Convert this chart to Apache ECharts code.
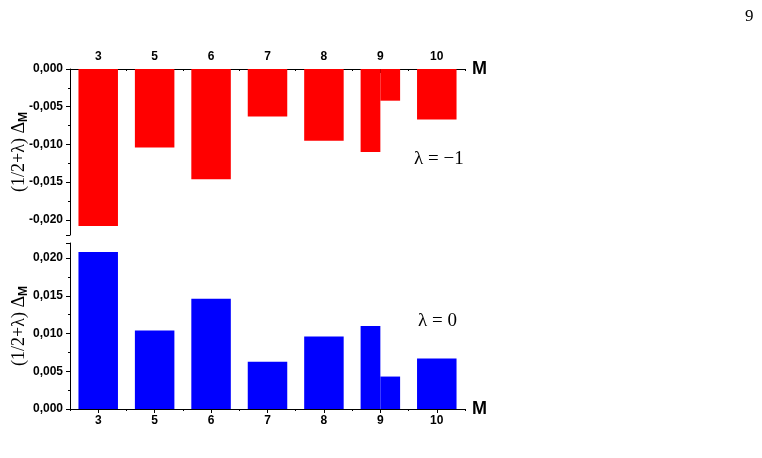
<!DOCTYPE html>
<html>
<head>
<meta charset="utf-8">
<script src="https://cdn.jsdelivr.net/npm/echarts@6/dist/echarts.min.js"></script>
<style>
  html, body { margin: 0; padding: 0; background: #fff; }
  #chart { width: 762px; height: 458px; }
</style>
</head>
<body>
<div id="chart"></div>
<script>
// M values on the x axis
var mValues = ['3', '5', '6', '7', '8', '9', '10'];

// lambda = -1 (upper panel); M = 9 has two bars, kept apart below
var negLambda = [-0.0208, -0.0104, -0.0146, -0.0063, -0.0095, null, -0.0067];
var negLambdaAt9 = [-0.0110, -0.0042];

// lambda = 0 (lower panel)
var zeroLambda = [0.0208, 0.0104, 0.0146, 0.00625, 0.0096, null, 0.0067];
var zeroLambdaAt9 = [0.0110, 0.0043];

var labelFont = 'Arial, "Liberation Sans", sans-serif';
var serifFont = '"Times New Roman", "Liberation Serif", serif';

function atNine(v) {
	return mValues.map(function(m) { return m === '9' ? v : null; });
}

function fmt(v) {
	return v.toFixed(3).replace('.', ',');
}

function yName() {
	return {
		name: '{a|(1/2+λ) Δ}{b|M}',
		nameLocation: 'middle',
		nameGap: 40,
		nameMoveOverlap: false,
		nameRotate: 90,
		nameTextStyle: {
			rich: {
				a: { fontFamily: serifFont, fontSize: 18, color: '#000', lineHeight: 22 },
				b: { fontFamily: labelFont, fontSize: 12, fontWeight: 'bold', color: '#000',
					verticalAlign: 'bottom', lineHeight: 22, padding: [6, 0, 0, 0] }
			}
		}
	};
}

function valueAxis(grid, min, max, hideMin) {
	var ax = yName();
	ax.type = 'value';
	ax.gridIndex = grid;
	ax.min = min;
	ax.max = max;
	ax.splitNumber = 5;
	ax.axisLine = { show: true, lineStyle: { color: '#000', width: 1 } };
	ax.axisTick = { show: true, length: 4, lineStyle: { color: '#000' } };
	ax.minorTick = { show: true, splitNumber: 2, length: 2, lineStyle: { color: '#000' } };
	ax.splitLine = { show: false };
	ax.axisLabel = {
		color: '#000', fontFamily: labelFont, fontWeight: 'bold', fontSize: 12, margin: 7,
		showMinLabel: !hideMin, showMaxLabel: hideMin,
		formatter: fmt
	};
	return ax;
}

function catAxis(grid, pos) {
	return {
		type: 'category',
		gridIndex: grid,
		position: pos,
		data: mValues,
		name: 'M',
		nameLocation: 'end',
		nameGap: 7,
		nameTextStyle: { fontFamily: labelFont, fontWeight: 'bold', fontSize: 18, color: '#000' },
		axisLine: { show: true, onZero: false, lineStyle: { color: '#000', width: 1 } },
		axisTick: { show: true, alignWithLabel: true, inside: pos === 'top', length: 4, lineStyle: { color: '#000' } },
		axisLabel: { color: '#000', fontFamily: labelFont, fontWeight: 'bold', fontSize: 12, margin: 6 },
		splitLine: { show: false }
	};
}

// second category axis: only the small ticks between categories, and holds the split bars at M = 9
function tickAxis(grid, pos) {
	return {
		type: 'category',
		gridIndex: grid,
		position: pos,
		data: mValues,
		axisLine: { show: false, onZero: false },
		axisTick: { show: true, alignWithLabel: false, inside: pos === 'top', length: 2, lineStyle: { color: '#000' } },
		axisLabel: { show: false },
		splitLine: { show: false }
	};
}

var chart = echarts.init(document.getElementById('chart'));
var option = {
	animation: false,
	backgroundColor: '#fff',
	grid: [
		{ left: 70, top: 69, width: 395, height: 166, containLabel: false, outerBoundsMode: 'none' },
		{ left: 70, top: 243, width: 395, height: 166, containLabel: false, outerBoundsMode: 'none' }
	],
	xAxis: [
		catAxis(0, 'top'),
		catAxis(1, 'bottom'),
		tickAxis(0, 'top'),
		tickAxis(1, 'bottom')
	],
	yAxis: [
		valueAxis(0, -0.022, 0, true),
		valueAxis(1, 0, 0.022, false)
	],
	graphic: [
		{ type: 'text', left: 745, top: 8, style: { text: '9', font: '17px ' + serifFont, fill: '#000' } },
		{ type: 'text', left: 414, top: 150, style: { text: 'λ = −1', font: '19px ' + serifFont, fill: '#000' } },
		{ type: 'text', left: 418, top: 312, style: { text: 'λ = 0', font: '19px ' + serifFont, fill: '#000' } }
	],
	series: [
		{ name: 'λ = -1', type: 'bar', xAxisIndex: 0, yAxisIndex: 0, barWidth: '70%',
			itemStyle: { color: '#ff0000' }, data: negLambda },
		{ name: 'λ = -1, M = 9 (a)', type: 'bar', xAxisIndex: 2, yAxisIndex: 0, barWidth: '35%', barGap: '0%',
			itemStyle: { color: '#ff0000' }, data: atNine(negLambdaAt9[0]) },
		{ name: 'λ = -1, M = 9 (b)', type: 'bar', xAxisIndex: 2, yAxisIndex: 0, barWidth: '35%', barGap: '0%',
			itemStyle: { color: '#ff0000' }, data: atNine(negLambdaAt9[1]) },
		{ name: 'λ = 0', type: 'bar', xAxisIndex: 1, yAxisIndex: 1, barWidth: '70%',
			itemStyle: { color: '#0000ff' }, data: zeroLambda },
		{ name: 'λ = 0, M = 9 (a)', type: 'bar', xAxisIndex: 3, yAxisIndex: 1, barWidth: '35%', barGap: '0%',
			itemStyle: { color: '#0000ff' }, data: atNine(zeroLambdaAt9[0]) },
		{ name: 'λ = 0, M = 9 (b)', type: 'bar', xAxisIndex: 3, yAxisIndex: 1, barWidth: '35%', barGap: '0%',
			itemStyle: { color: '#0000ff' }, data: atNine(zeroLambdaAt9[1]) }
	]
};
chart.setOption(option);
</script>
</body>
</html>
